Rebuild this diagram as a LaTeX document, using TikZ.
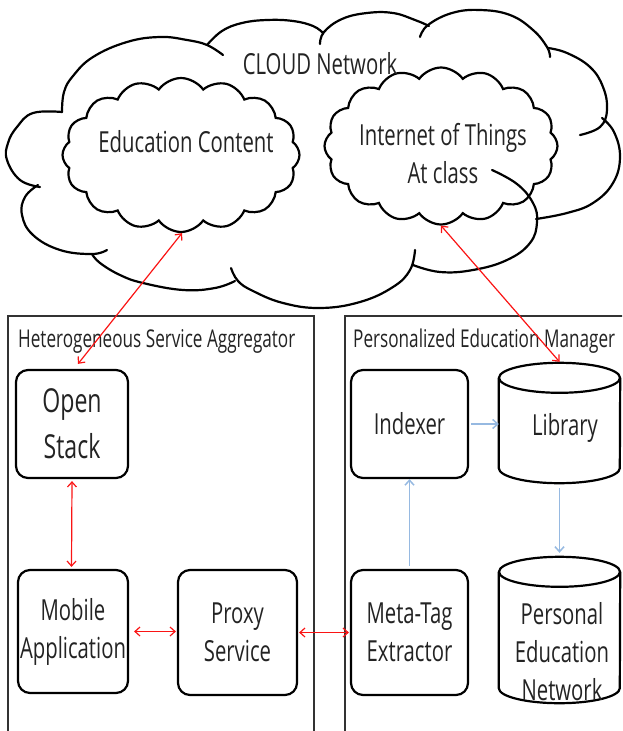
\documentclass[tikz,border=0pt]{standalone}
\usepackage{fontspec}
\usetikzlibrary{shapes.symbols,arrows.meta,calc}
\newfontfamily\lf[FakeStretch=0.7]{Open Sans}
\definecolor{redln}{RGB}{250,20,20}
\definecolor{blueln}{RGB}{150,185,225}
\definecolor{panelc}{RGB}{50,50,50}
\definecolor{txt}{RGB}{35,35,35}
\newcommand\drawcyl[3]{%
  \draw[cylline] ($(#1.north west)+(0,#3)$) -- ($(#1.south west)+(0,-#3)$)
     arc[start angle=180, end angle=0, x radius=#2, y radius=#3]
     -- ($(#1.north east)+(0,#3)$);
  \draw[cylline] ($(#1.north)+(0,#3)$) ellipse[x radius=#2, y radius=#3];
}
\begin{document}
\begin{tikzpicture}[x=1pt,y=-1pt,
  lbl/.style={font=\lf\fontsize{29}{38}\selectfont, text=txt, align=center, inner sep=0pt},
  ttl/.style={font=\lf\fontsize{24.5}{30}\selectfont, text=txt, inner sep=0pt},
  box/.style={draw=black, line width=2.2pt, rounded corners=12pt, lbl},
  cylline/.style={draw=black, line width=2.2pt},
  puff/.style={draw=black, line width=2.2pt, line cap=round},
  smallcloud/.style={cloud, cloud ignores aspect, draw=black, line width=2.2pt, inner sep=0pt},
  panel/.style={draw=panelc, line width=2.2pt, anchor=north west, inner sep=0pt},
  redarr/.style={draw=redln, line width=1.2pt, {Straight Barb[length=5pt,width=9pt]}-{Straight Barb[length=5pt,width=9pt]}},
  bluearr/.style={draw=blueln, line width=1.5pt, -{Straight Barb[length=5pt,width=9pt]}},
]
\useasboundingbox (0,0) rectangle (622,731);
\clip (0,0) rectangle (622,731);

% big cloud (drawn puff by puff)
\draw[puff] plot[smooth, tension=0.7] coordinates {(62,112) (33,113) (17,127) (8,143) (7,160) (20,180) (40,187)};
\draw[puff] plot[smooth, tension=0.7] coordinates {(38,185) (25,197) (22,215) (33,235) (60,250) (92,254) (107,250)};
\draw[puff] plot[smooth, tension=0.7] coordinates {(92,254) (100,263) (120,275) (143,283) (183,290) (215,288) (235,281)};
\draw[puff] plot[smooth, tension=0.7] coordinates {(231,268) (238,281) (253,291) (283,303) (320,308) (360,302) (393,287) (410,270) (415,250)};
\draw[puff] plot[smooth, tension=0.7] coordinates {(413,265) (440,272) (473,270) (507,260) (530,243) (537,222) (533,203) (517,184) (492,170)};
\draw[puff] plot[smooth, tension=0.7] coordinates {(536,219) (567,213) (593,203) (613,183) (620,157) (614,132) (602,118)};
\draw[puff] plot[smooth, tension=0.7] coordinates {(548,48) (567,53) (590,67) (603,87) (607,110) (600,127) (580,135)};
\draw[puff] plot[smooth, tension=0.7] coordinates {(420,37) (428,25) (452,13) (480,10) (510,15) (533,30) (547,47) (550,57)};
\draw[puff] plot[smooth, tension=0.7] coordinates {(320,44) (324,32) (342,19) (367,13) (393,13) (415,20) (429,26)};
\draw[puff] plot[smooth, tension=0.7] coordinates {(207,45) (222,31) (242,23) (267,20) (293,21) (313,26) (323,33)};
\draw[puff] plot[smooth, tension=0.7] coordinates {(62,112) (64,92) (73,76) (93,57) (127,42) (160,37) (187,40) (207,45) (223,55)};

% inner clouds
\node[smallcloud, cloud puffs=16, cloud puff arc=110, minimum width=237pt, minimum height=154pt] (edu) at (181,155) {};
\node[smallcloud, cloud puffs=16, cloud puff arc=110, minimum width=233pt, minimum height=157pt] (iot) at (441,146) {};
\node[lbl, anchor=base] (netl) at (320,74) {CLOUD Network};
\node[lbl, anchor=base] (edul) at (186,152) {Education Content};
\node[lbl] (iotl) at (443,154) {Internet of Things\\At class};

% panels
\node[panel, minimum width=306pt, minimum height=440pt] (hsa) at (7,315) {};
\node[panel, minimum width=300pt, minimum height=440pt] (pem) at (344,315) {};
\node[ttl, anchor=base west] (hsat) at (18,347) {Heterogeneous Service Aggregator};
\node[ttl, anchor=base west] (pemt) at (353,347) {Personalized Education Manager};

% boxes
\node[box, font=\lf\fontsize{33}{46}\selectfont, minimum width=112pt, minimum height=108pt] (os) at (72,424) {Open\\Stack};
\node[box, minimum width=110pt, minimum height=123pt] (ma) at (73,631.5) {Mobile\\Application};
\node[box, minimum width=119pt, minimum height=125pt] (ps) at (237.5,632.5) {Proxy\\Service};
\node[box, minimum width=117pt, minimum height=108pt] (ix) at (409.5,424) {Indexer};
\node[box, minimum width=117pt, minimum height=125pt] (mt) at (409.5,632.5) {Meta-Tag\\Extractor};

% cylinders
\node[minimum width=121pt, minimum height=120pt, inner sep=0pt] (lib) at (559.5,423) {};
\drawcyl{lib}{60.5}{15}
\node[lbl, anchor=base] (libl) at (565,435) {Library};
\node[minimum width=121pt, minimum height=146pt, inner sep=0pt] (pen) at (559.5,630) {};
\drawcyl{pen}{60.5}{15}
\node[lbl] (penl) at (562,652) {Personal\\Education\\Network};

% connectors
\draw[redarr] ([xshift=1pt]edu.south) -- ([xshift=6pt,yshift=5pt]os.north);
\draw[redarr] (iot.south) -- ([yshift=1pt]lib.north);
\draw[redarr] ([yshift=-2pt]os.south) -- ([xshift=-0.5pt,yshift=2pt]os.south |- ma.north);
\draw[redarr] ([xshift=5pt]ma.east) -- ([xshift=-1pt]ps.west |- ma.east);
\draw[redarr] ([xshift=1pt]ps.east) -- ([xshift=-1pt]mt.west |- ps.east);
\draw[bluearr] ([xshift=2pt]ix.east) -- (lib.west |- ix.east);
\draw[bluearr] ([yshift=-5pt]lib.south) -- ([yshift=4pt]pen.north);
\draw[bluearr] ([yshift=3pt]mt.north) -- (ix.south);
\end{tikzpicture}
\end{document}
